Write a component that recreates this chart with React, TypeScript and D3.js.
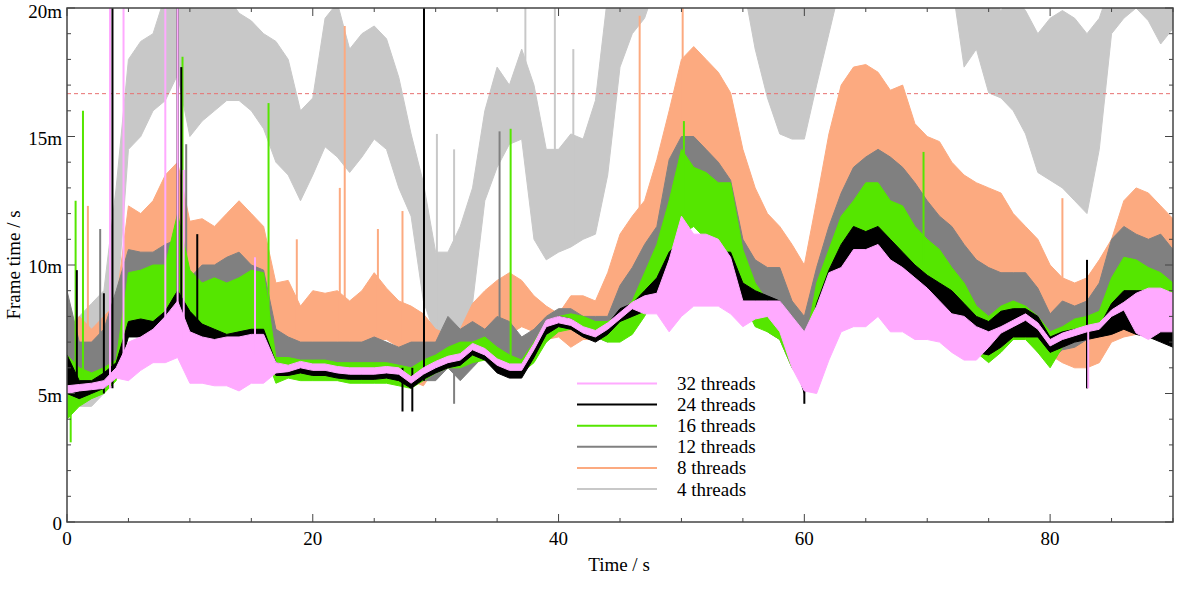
import React from "react";
import * as d3 from "d3";

// frame times (ms), one sample per second, low / high edge of each noisy trace
const times = d3.range(0, 91);

const t4Lo = [5, 4.5, 4.5, 5, 8, 14.5, 15, 16, 16.4, 17.4, 15, 15.6, 16, 16.4, 16.4, 16, 15.3, 14, 13.5, 12.5, 13.5, 14.6, 14.2, 13.6, 14.2, 14.9, 14.5, 13, 11.9, 8.6, 7.2, 7.3, 7.5, 8.5, 12.5, 13.8, 14.7, 14.9, 11, 10.2, 10.5, 10.7, 11, 11.2, 13.5, 17.7, 19, 19.6, 21, 21, 21, 21, 21, 21, 21, 21, 18.4, 16.5, 15.1, 14.9, 14.9, 17, 19, 21, 21, 21, 21, 21, 21, 21, 21, 21, 21, 17.7, 18.4, 16.7, 16.5, 16, 15.1, 13.6, 13.3, 13, 12.5, 12, 14.5, 19, 19.6, 20, 19.5, 18.6, 19.2];
const t4Hi = [7, 8, 8.5, 9, 13, 18, 18.7, 19, 20.5, 21, 20.5, 20.5, 20.5, 20.5, 19.8, 19.5, 19, 18.7, 18, 16, 16.5, 19.6, 20.2, 18.4, 19, 19.3, 18.8, 17.3, 15.1, 13.2, 10.5, 10.5, 11.5, 13, 16, 17.7, 17, 18.4, 17, 14.5, 14.5, 15.1, 14.9, 16.4, 20.5, 21, 21, 22, 22, 22, 22, 22, 22, 22, 22, 22, 20.5, 20.5, 20.5, 20.5, 20.5, 21, 22, 22, 22, 22, 22, 22, 22, 22, 22, 22, 22, 20.5, 20.5, 20.5, 19.9, 20.5, 19.9, 19, 19.6, 19.9, 19.6, 19, 19.6, 21, 21, 21, 21, 21, 21];

const t8Lo = [5.5, 5.5, 5.5, 5.8, 6, 8, 8, 8.5, 9, 9, 8, 8, 8, 8, 8, 8, 7.5, 6.7, 6.6, 6.8, 6.4, 6.6, 6.8, 6.7, 6.8, 7.1, 7.1, 6.8, 5.5, 5.3, 6, 6, 6.2, 6.3, 7.2, 7.2, 7.3, 7.6, 7.4, 7.1, 7.2, 6.8, 7.1, 7.1, 7.3, 8, 8.4, 9.1, 9.7, 12.5, 13.2, 12, 12, 12, 11.5, 10.5, 9.5, 8.5, 8, 7.3, 7.3, 8.6, 11.2, 12.5, 12.5, 12, 12, 11.5, 11, 10.5, 10, 9.8, 9.5, 9.3, 9, 8.8, 8.5, 8, 7.8, 7.5, 6.5, 6.2, 6, 6, 6.2, 7, 7.2, 7.3, 7.5, 7.3, 7.2];
const t8Hi = [7, 8, 7.5, 8, 8.5, 12.3, 12, 12.5, 13.5, 14, 11.7, 11.8, 11.5, 12, 12.5, 12, 11.5, 9.3, 9.4, 8.4, 9, 8.9, 9, 8.6, 9, 9.7, 9.1, 8.6, 8.4, 8.1, 7.5, 7.3, 7.5, 8.5, 9, 9.4, 9.7, 9.4, 8.8, 8.4, 8.1, 8.8, 8.8, 8.6, 9.7, 11.2, 11.9, 12.5, 14.1, 16, 18, 18.5, 18, 17.5, 16.7, 14.5, 13, 12, 11.5, 10.8, 10, 12.5, 15.1, 17, 17.7, 17.8, 17.5, 16.8, 17, 15.5, 15, 14.8, 14, 13.5, 13.2, 13, 12.8, 12, 11.5, 11, 10, 9.5, 9.3, 9.5, 10.2, 11, 12.5, 13, 12.8, 12.3, 11.8];

const t12Lo = [5, 5, 5, 5.5, 6, 9, 9, 9, 9.2, 9, 8, 8, 8, 8, 8, 8, 7.5, 6, 5.8, 5.6, 5.6, 5.6, 5.6, 5.6, 5.5, 5.6, 5.6, 5.4, 5.3, 5.5, 5.5, 6, 5.5, 6, 6.5, 6, 6, 6.2, 6.5, 7, 7.5, 7.5, 7.2, 7.2, 7, 7.6, 8.4, 9.1, 9.7, 11.2, 12, 12, 12, 11.5, 11, 8.8, 8.4, 7.4, 7.1, 6, 5.4, 7.4, 8.6, 9.9, 11.2, 12.1, 11.9, 11.2, 10.6, 9.9, 9.7, 9.1, 9.1, 8.6, 8, 7.4, 7.4, 7.1, 7.4, 6.6, 6.3, 6.7, 6.8, 7.1, 7.4, 8.6, 9.1, 8.6, 8.1, 8, 7.4];
const t12Hi = [9, 7, 7, 7.5, 9, 10.6, 10.5, 10.5, 10.8, 11, 9.5, 10, 10, 10.3, 10.5, 10, 9.8, 7.5, 7.2, 7, 7, 7, 7, 7, 7, 7.2, 7, 6.8, 7, 7, 7, 8, 7.5, 7.8, 7.5, 8, 7.8, 7.2, 7.5, 8, 8.3, 8.3, 8, 8, 8, 9.2, 9.9, 10.8, 11.5, 14.1, 15, 15, 14.5, 14, 13.3, 11, 10.2, 9.9, 9.9, 8.6, 8, 9.9, 11.5, 12.8, 13.8, 14.2, 14.5, 14.2, 13.8, 13.2, 12.5, 11.9, 11.5, 10.8, 10.2, 9.9, 9.7, 9.7, 9.7, 9.1, 8.1, 8.6, 8.4, 8.6, 9.3, 11, 11.5, 11.2, 11, 11.2, 10.6];

const t16Lo = [4, 4.5, 4.8, 5, 5.5, 7.8, 7.8, 7.8, 7.8, 8, 7.5, 7.2, 7, 6.7, 6.7, 7, 6.7, 5.4, 5.6, 5.5, 5.5, 5.5, 5.5, 5.4, 5.4, 5.4, 5.4, 5.3, 5.2, 5.5, 5.8, 6, 6, 6.2, 6.3, 6, 5.8, 5.8, 6.2, 7, 7.4, 7.5, 7.3, 7.2, 7, 7, 7.3, 8, 8.9, 9.9, 11.2, 11.5, 11, 10.6, 10.2, 8.6, 7.6, 7.4, 7.1, 6, 5.4, 7.4, 8.6, 9.9, 10.6, 10.6, 10.6, 10.2, 9.9, 9.7, 9.1, 8.6, 8, 7.4, 6.6, 6.2, 6.6, 7.1, 7.1, 6.6, 6, 6.8, 7.1, 7.4, 7.5, 8, 8.6, 8.4, 8.1, 8, 7.4];
const t16Hi = [6.5, 6, 5.8, 6, 6.3, 9.7, 9.8, 10, 10, 12, 9.8, 9.3, 9.5, 9.3, 9.5, 9.8, 9.7, 6.4, 6.4, 6.3, 6.3, 6.3, 6.2, 6.2, 6.2, 6.2, 6.2, 6.1, 6, 6.3, 6.5, 6.8, 7, 7, 7.2, 6.8, 6.5, 6.3, 7, 7.8, 8, 8.1, 8, 7.8, 7.8, 8.1, 8.6, 9.7, 10.8, 12.5, 14.5, 13.8, 13.6, 13.2, 13.2, 10.6, 9.3, 8.6, 8.4, 7.4, 6.7, 9.3, 10.6, 11.9, 12.5, 13.2, 13.2, 12.5, 12.3, 11.5, 11, 10.6, 9.9, 9.3, 8.4, 8, 8.4, 8.6, 8.4, 8, 7.4, 7.6, 7.9, 8, 8.2, 9.5, 10.3, 10.2, 9.9, 9.7, 9.3];

const t24Lo = [5, 4.8, 5, 5.2, 5.6, 7.2, 7.2, 7.1, 7.2, 7.8, 7, 6.8, 6.8, 6.7, 6.7, 6.7, 6.6, 5.7, 5.7, 5.8, 5.7, 5.7, 5.6, 5.55, 5.55, 5.55, 5.6, 5.5, 5.2, 5.55, 5.8, 6, 6.1, 6.5, 6.3, 5.8, 5.6, 5.6, 6.4, 7.3, 7.6, 7.5, 7.2, 7, 7.3, 7.8, 8, 8.2, 8.3, 8.5, 8.7, 9, 9, 9, 9, 8.2, 8.2, 8.2, 7.8, 6.5, 5, 7.2, 8.5, 9, 9.5, 9.5, 9.2, 9, 8.8, 8.5, 8, 7.8, 7.3, 7, 6.6, 6.5, 6.8, 7.2, 7.2, 7.2, 6.6, 6.8, 7, 7.1, 7.2, 7.3, 7.5, 7.3, 7.2, 7, 6.8];
const t24Hi = [6.5, 5.5, 5.5, 5.8, 6.2, 7.8, 7.9, 7.8, 8.2, 9, 8.2, 7.7, 7.5, 7.3, 7.4, 7.5, 7.5, 6.2, 6.05, 6.15, 6.05, 6.05, 5.95, 5.9, 5.9, 5.9, 5.95, 5.9, 5.6, 5.9, 6.15, 6.35, 6.5, 6.9, 6.7, 6.25, 6.05, 6.1, 6.9, 7.8, 8, 7.9, 7.55, 7.4, 7.7, 8.3, 8.5, 9, 9.5, 10.5, 11, 11, 10.8, 10.5, 10.5, 9.3, 9, 8.8, 8.6, 7.8, 6.5, 8.5, 9.8, 10.8, 11.5, 11.3, 11.5, 11, 10.5, 10, 9.6, 9.3, 9, 8.5, 8, 7.8, 8.2, 8.3, 8.3, 8, 7.2, 7.4, 7.5, 7.5, 7.6, 8.5, 9, 9, 9, 8.5, 8.5];

const t32Lo = [5, 5.1, 5.15, 5.2, 5.6, 5.5, 5.9, 6.2, 6.2, 6.4, 5.4, 5.4, 5.3, 5.3, 5.1, 5.4, 5.4, 5.8, 5.85, 6, 5.9, 5.9, 5.8, 5.75, 5.75, 5.75, 5.8, 5.75, 5.4, 5.75, 6, 6.2, 6.3, 6.7, 6.5, 6.1, 5.9, 5.9, 6.7, 7.6, 7.75, 7.65, 7.35, 7.2, 7.5, 7.9, 8.3, 8.1, 8.1, 7.4, 8, 8.4, 8.4, 8.4, 8.1, 7.6, 7.9, 8, 7.4, 6, 5.1, 5, 6.3, 7.4, 7.6, 7.6, 8, 7.4, 7.4, 7.1, 7.1, 7, 6.6, 6.3, 6.3, 6.8, 7.35, 7.6, 7.85, 7.5, 6.85, 7.1, 7.25, 7.4, 7.5, 8, 8.25, 7.35, 7.1, 7.4, 7.4];
const t32Hi = [5.3, 5.35, 5.4, 5.5, 6, 7, 7.2, 7.5, 8, 8.6, 7.4, 7.2, 7.1, 7.2, 7.2, 7.3, 7.3, 6.2, 6.1, 6.25, 6.15, 6.15, 6.05, 6, 6, 6, 6.05, 6, 5.65, 6, 6.25, 6.45, 6.55, 6.95, 6.75, 6.35, 6.15, 6.15, 6.95, 7.85, 8, 7.9, 7.6, 7.45, 7.75, 8.15, 8.55, 8.8, 8.9, 10.2, 11.9, 11.2, 11.2, 11, 10.3, 8.6, 8.6, 8.6, 8.6, 8, 7.4, 8.4, 9.7, 9.9, 10.6, 10.6, 10.8, 10.2, 9.9, 9.5, 9.1, 8.6, 8.1, 8, 7.6, 7.4, 7.6, 7.85, 8.1, 7.75, 7.1, 7.35, 7.5, 7.65, 7.75, 8.25, 8.55, 8.9, 9.1, 9.1, 8.9];

// isolated spikes: [time, low, high]
const t4Spikes = [[30.1, 7.5, 15.1], [31.5, 7.5, 14.5], [37.3, 15, 21], [39.7, 11, 21], [41.2, 11, 18.4]];
const t8Spikes = [[1.7, 6, 12.3], [18.7, 7, 11], [22.2, 7, 13], [22.6, 7, 19.3], [25.3, 7, 11.4], [27.3, 7, 12.1], [46.6, 9, 19.7], [50.1, 15, 21], [81, 7, 12.6]];
const t12Spikes = [[0, 5, 11], [2.7, 5, 11.4], [9.7, 9, 14.7], [31.5, 4.6, 7], [35.2, 6, 15.2]];
const t16Spikes = [[0.3, 3.1, 6], [0.7, 5, 12.5], [1.3, 5, 16], [9.4, 8, 18.1], [16.4, 7, 16.3], [36.1, 6, 15.3], [50.2, 12, 15.6], [69.7, 10, 14.4]];
const t24Spikes = [[0.8, 5, 9.8], [3, 5, 8.9], [3.7, 5.2, 21], [9, 8, 21], [9.3, 8, 17.7], [10.6, 7, 11.2], [27.3, 4.3, 6], [28.1, 4.3, 6], [29.05, 5.5, 21], [60, 4.6, 7], [83, 5.2, 10.2]];
const t32Spikes = [[3.5, 5.2, 21], [4.6, 5.8, 21], [8, 6.5, 21], [9, 7, 21], [9.5, 7, 13.7], [15.3, 6.5, 10.3], [83.1, 5.2, 7.5]];

const seriesNames = ["32 threads", "24 threads", "16 threads", "12 threads", "8 threads", "4 threads"];
const seriesColors = ["#ffaaff", "#000000", "#55e600", "#808080", "#fcaa80", "#c8c8c8"];
const seriesLo = [t32Lo, t24Lo, t16Lo, t12Lo, t8Lo, t4Lo];
const seriesHi = [t32Hi, t24Hi, t16Hi, t12Hi, t8Hi, t4Hi];
const seriesSpikes = [t32Spikes, t24Spikes, t16Spikes, t12Spikes, t8Spikes, t4Spikes];

const yTicks = [0, 5, 10, 15, 20];
const yTickLabels = ["0", "5m", "10m", "15m", "20m"];
const xTicks = [0, 20, 40, 60, 80];
const vsyncLimit = 1000 / 60;

const W = 1181;
const H = 590;
const margin = { top: 8, right: 8, bottom: 68, left: 67 };
const font =
  '"Liberation Serif", "Times New Roman", Times, Tinos, "Nimbus Roman", "Noto Serif", "DejaVu Serif", serif';

export default function App() {
  const x = d3.scaleLinear().domain([0, 90]).range([margin.left, W - margin.right]);
  const y = d3.scaleLinear().domain([0, 20]).range([H - margin.bottom, margin.top]);
  const [x0, x1] = x.range();
  const [y0, y1] = y.range();

  const band = (lo: number[], hi: number[]) =>
    d3
      .area<number>()
      .x((d) => x(d))
      .y0((d, i) => y(lo[i]))
      .y1((d, i) => y(hi[i]))(times) || "";

  // draw 4 threads first, 32 threads last
  const order = [5, 4, 3, 2, 1, 0];
  const minorX = d3.range(0, 91, 5).filter((v) => v % 20 !== 0);
  const minorY = d3.range(0, 21, 1).filter((v) => v % 5 !== 0);
  const axisColor = "#444";
  const txt = { fontFamily: font, fontSize: 19, fill: "#000" };

  return (
    <svg
      width={W}
      height={H}
      style={{ position: "absolute", left: 0, top: 0, background: "#fff", fontFamily: font }}
    >
      <defs>
        <clipPath id="plot">
          <rect x={x0} y={y1} width={x1 - x0} height={y0 - y1} />
        </clipPath>
      </defs>

      <g clipPath="url(#plot)">
        {order.map((s) => (
          <g key={s}>
            <path
              d={band(seriesLo[s], seriesHi[s])}
              fill={seriesColors[s]}
              stroke={seriesColors[s]}
              strokeWidth={1}
            />
            {seriesSpikes[s].map((p, i) => (
              <line
                key={i}
                x1={x(p[0])}
                x2={x(p[0])}
                y1={y(p[1])}
                y2={y(p[2])}
                stroke={seriesColors[s]}
                strokeWidth={2}
              />
            ))}
            {s === 5 && (
              <line
                x1={x0}
                x2={x1}
                y1={y(vsyncLimit)}
                y2={y(vsyncLimit)}
                stroke="#e87070"
                strokeWidth={1}
                strokeDasharray="4,3"
              />
            )}
          </g>
        ))}
      </g>

      {/* frame and ticks */}
      <rect x={x0} y={y1} width={x1 - x0} height={y0 - y1} fill="none" stroke={axisColor} strokeWidth={1.5} />
      {xTicks.map((v) => (
        <g key={"x" + v}>
          <line x1={x(v)} x2={x(v)} y1={y0} y2={y0 - 8} stroke={axisColor} />
          <line x1={x(v)} x2={x(v)} y1={y1} y2={y1 + 8} stroke={axisColor} />
          <text x={x(v)} y={y0 + 23} textAnchor="middle" style={txt}>
            {v}
          </text>
        </g>
      ))}
      {minorX.map((v) => (
        <g key={"mx" + v}>
          <line x1={x(v)} x2={x(v)} y1={y0} y2={y0 - 4} stroke={axisColor} />
          <line x1={x(v)} x2={x(v)} y1={y1} y2={y1 + 4} stroke={axisColor} />
        </g>
      ))}
      {yTicks.map((v, i) => (
        <g key={"y" + v}>
          <line x1={x0} x2={x0 + 8} y1={y(v)} y2={y(v)} stroke={axisColor} />
          <line x1={x1} x2={x1 - 8} y1={y(v)} y2={y(v)} stroke={axisColor} />
          <text x={x0 - 5} y={y(v) + (v === 20 ? 10 : 8)} textAnchor="end" style={txt}>
            {yTickLabels[i]}
          </text>
        </g>
      ))}
      {minorY.map((v) => (
        <g key={"my" + v}>
          <line x1={x0} x2={x0 + 4} y1={y(v)} y2={y(v)} stroke={axisColor} />
          <line x1={x1} x2={x1 - 4} y1={y(v)} y2={y(v)} stroke={axisColor} />
        </g>
      ))}

      <text x={(x0 + x1) / 2 - 1} y={571} textAnchor="middle" style={txt}>
        Time / s
      </text>
      <text
        transform={`translate(20,${(y0 + y1) / 2}) rotate(-90)`}
        textAnchor="middle"
        style={txt}
      >
        Frame time / s
      </text>

      {/* legend */}
      {seriesNames.map((name, i) => {
        const ly = 383.5 + i * 21.1;
        return (
          <g key={name}>
            <line x1={577} x2={657} y1={ly} y2={ly} stroke={seriesColors[i]} strokeWidth={2} />
            <text x={677} y={ly + 6.5} style={txt}>
              {name}
            </text>
          </g>
        );
      })}
    </svg>
  );
}
